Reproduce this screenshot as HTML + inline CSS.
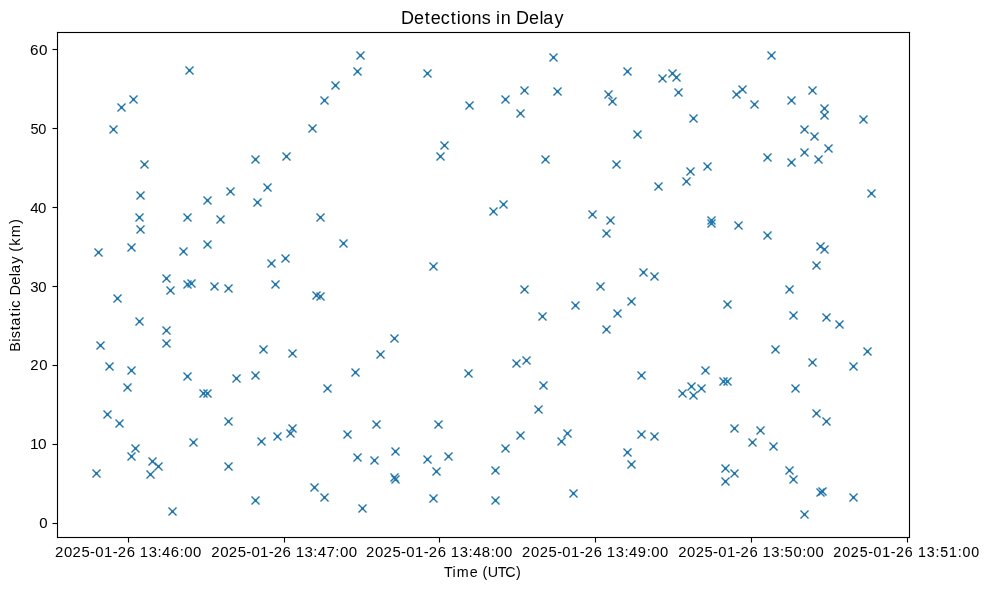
<!DOCTYPE html>
<html><head><meta charset="utf-8"><title>Detections in Delay</title>
<style>html,body{margin:0;padding:0;background:#fff;width:989px;height:590px;overflow:hidden;font-family:"Liberation Sans", sans-serif;}svg{display:block;}</style>
</head><body>
<svg width="989" height="590" viewBox="0 0 989 590" style="will-change:transform">
<rect width="989" height="590" fill="#fff"/>
<defs><g id="m" fill="#1f77b4"><path d="M1 1h1v1h-1zM7 1h1v1h-1zM2 2h1v1h-1zM6 2h1v1h-1zM3 3h1v1h-1zM5 3h1v1h-1zM4 4h1v1h-1zM3 5h1v1h-1zM5 5h1v1h-1zM2 6h1v1h-1zM6 6h1v1h-1zM1 7h1v1h-1zM7 7h1v1h-1z"/><path d="M4 3h1v1h-1zM3 4h1v1h-1zM5 4h1v1h-1zM4 5h1v1h-1z" fill-opacity="0.975"/><path d="M1 0h1v1h-1zM7 0h1v1h-1zM0 1h1v1h-1zM2 1h1v1h-1zM6 1h1v1h-1zM8 1h1v1h-1zM1 2h1v1h-1zM3 2h1v1h-1zM5 2h1v1h-1zM7 2h1v1h-1zM2 3h1v1h-1zM6 3h1v1h-1zM2 5h1v1h-1zM6 5h1v1h-1zM1 6h1v1h-1zM3 6h1v1h-1zM5 6h1v1h-1zM7 6h1v1h-1zM0 7h1v1h-1zM2 7h1v1h-1zM6 7h1v1h-1zM8 7h1v1h-1zM1 8h1v1h-1zM7 8h1v1h-1z" fill-opacity="0.492"/><path d="M0 0h1v1h-1zM8 0h1v1h-1zM0 8h1v1h-1zM8 8h1v1h-1z" fill-opacity="0.506"/></g></defs>
<g>
<use href="#m" x="185" y="66"/>
<use href="#m" x="129" y="95"/>
<use href="#m" x="117" y="103"/>
<use href="#m" x="109" y="125"/>
<use href="#m" x="356" y="51"/>
<use href="#m" x="353" y="67"/>
<use href="#m" x="331" y="81"/>
<use href="#m" x="320" y="96"/>
<use href="#m" x="308" y="124"/>
<use href="#m" x="423" y="69"/>
<use href="#m" x="465" y="101"/>
<use href="#m" x="501" y="95"/>
<use href="#m" x="520" y="86"/>
<use href="#m" x="516" y="109"/>
<use href="#m" x="549" y="53"/>
<use href="#m" x="553" y="87"/>
<use href="#m" x="623" y="67"/>
<use href="#m" x="604" y="90"/>
<use href="#m" x="608" y="97"/>
<use href="#m" x="658" y="74"/>
<use href="#m" x="668" y="69"/>
<use href="#m" x="672" y="73"/>
<use href="#m" x="674" y="88"/>
<use href="#m" x="689" y="114"/>
<use href="#m" x="633" y="130"/>
<use href="#m" x="767" y="51"/>
<use href="#m" x="738" y="85"/>
<use href="#m" x="732" y="90"/>
<use href="#m" x="750" y="100"/>
<use href="#m" x="787" y="96"/>
<use href="#m" x="808" y="86"/>
<use href="#m" x="820" y="104"/>
<use href="#m" x="820" y="111"/>
<use href="#m" x="859" y="115"/>
<use href="#m" x="800" y="125"/>
<use href="#m" x="810" y="132"/>
<use href="#m" x="140" y="160"/>
<use href="#m" x="136" y="191"/>
<use href="#m" x="135" y="213"/>
<use href="#m" x="136" y="225"/>
<use href="#m" x="183" y="213"/>
<use href="#m" x="203" y="196"/>
<use href="#m" x="226" y="187"/>
<use href="#m" x="216" y="215"/>
<use href="#m" x="251" y="155"/>
<use href="#m" x="282" y="152"/>
<use href="#m" x="263" y="183"/>
<use href="#m" x="253" y="198"/>
<use href="#m" x="316" y="213"/>
<use href="#m" x="440" y="141"/>
<use href="#m" x="436" y="152"/>
<use href="#m" x="541" y="155"/>
<use href="#m" x="499" y="200"/>
<use href="#m" x="489" y="207"/>
<use href="#m" x="612" y="160"/>
<use href="#m" x="654" y="182"/>
<use href="#m" x="686" y="167"/>
<use href="#m" x="682" y="177"/>
<use href="#m" x="703" y="162"/>
<use href="#m" x="588" y="210"/>
<use href="#m" x="606" y="216"/>
<use href="#m" x="763" y="153"/>
<use href="#m" x="787" y="158"/>
<use href="#m" x="800" y="148"/>
<use href="#m" x="824" y="144"/>
<use href="#m" x="814" y="155"/>
<use href="#m" x="707" y="216"/>
<use href="#m" x="707" y="219"/>
<use href="#m" x="734" y="221"/>
<use href="#m" x="867" y="189"/>
<use href="#m" x="127" y="243"/>
<use href="#m" x="94" y="248"/>
<use href="#m" x="179" y="247"/>
<use href="#m" x="203" y="240"/>
<use href="#m" x="162" y="274"/>
<use href="#m" x="166" y="286"/>
<use href="#m" x="183" y="280"/>
<use href="#m" x="187" y="279"/>
<use href="#m" x="210" y="282"/>
<use href="#m" x="224" y="284"/>
<use href="#m" x="113" y="294"/>
<use href="#m" x="339" y="239"/>
<use href="#m" x="281" y="254"/>
<use href="#m" x="267" y="259"/>
<use href="#m" x="271" y="280"/>
<use href="#m" x="312" y="291"/>
<use href="#m" x="316" y="292"/>
<use href="#m" x="429" y="262"/>
<use href="#m" x="520" y="285"/>
<use href="#m" x="538" y="312"/>
<use href="#m" x="602" y="229"/>
<use href="#m" x="639" y="268"/>
<use href="#m" x="650" y="272"/>
<use href="#m" x="596" y="282"/>
<use href="#m" x="571" y="301"/>
<use href="#m" x="627" y="297"/>
<use href="#m" x="613" y="309"/>
<use href="#m" x="763" y="231"/>
<use href="#m" x="816" y="242"/>
<use href="#m" x="820" y="245"/>
<use href="#m" x="812" y="261"/>
<use href="#m" x="785" y="285"/>
<use href="#m" x="723" y="300"/>
<use href="#m" x="789" y="311"/>
<use href="#m" x="822" y="313"/>
<use href="#m" x="135" y="317"/>
<use href="#m" x="96" y="341"/>
<use href="#m" x="162" y="326"/>
<use href="#m" x="162" y="339"/>
<use href="#m" x="105" y="362"/>
<use href="#m" x="127" y="366"/>
<use href="#m" x="123" y="383"/>
<use href="#m" x="183" y="372"/>
<use href="#m" x="199" y="389"/>
<use href="#m" x="203" y="389"/>
<use href="#m" x="232" y="374"/>
<use href="#m" x="251" y="371"/>
<use href="#m" x="259" y="345"/>
<use href="#m" x="288" y="349"/>
<use href="#m" x="323" y="384"/>
<use href="#m" x="351" y="368"/>
<use href="#m" x="376" y="350"/>
<use href="#m" x="390" y="334"/>
<use href="#m" x="464" y="369"/>
<use href="#m" x="512" y="359"/>
<use href="#m" x="522" y="356"/>
<use href="#m" x="539" y="381"/>
<use href="#m" x="602" y="325"/>
<use href="#m" x="637" y="371"/>
<use href="#m" x="678" y="389"/>
<use href="#m" x="687" y="382"/>
<use href="#m" x="689" y="391"/>
<use href="#m" x="697" y="384"/>
<use href="#m" x="701" y="366"/>
<use href="#m" x="835" y="320"/>
<use href="#m" x="771" y="345"/>
<use href="#m" x="808" y="358"/>
<use href="#m" x="849" y="362"/>
<use href="#m" x="719" y="377"/>
<use href="#m" x="723" y="377"/>
<use href="#m" x="791" y="384"/>
<use href="#m" x="863" y="347"/>
<use href="#m" x="103" y="410"/>
<use href="#m" x="115" y="419"/>
<use href="#m" x="131" y="444"/>
<use href="#m" x="127" y="452"/>
<use href="#m" x="148" y="457"/>
<use href="#m" x="154" y="462"/>
<use href="#m" x="146" y="470"/>
<use href="#m" x="92" y="469"/>
<use href="#m" x="189" y="438"/>
<use href="#m" x="224" y="417"/>
<use href="#m" x="224" y="462"/>
<use href="#m" x="257" y="437"/>
<use href="#m" x="273" y="432"/>
<use href="#m" x="286" y="429"/>
<use href="#m" x="288" y="424"/>
<use href="#m" x="343" y="430"/>
<use href="#m" x="372" y="420"/>
<use href="#m" x="353" y="453"/>
<use href="#m" x="370" y="456"/>
<use href="#m" x="310" y="483"/>
<use href="#m" x="320" y="493"/>
<use href="#m" x="534" y="405"/>
<use href="#m" x="434" y="420"/>
<use href="#m" x="516" y="431"/>
<use href="#m" x="501" y="444"/>
<use href="#m" x="391" y="447"/>
<use href="#m" x="423" y="455"/>
<use href="#m" x="444" y="452"/>
<use href="#m" x="432" y="467"/>
<use href="#m" x="491" y="466"/>
<use href="#m" x="390" y="473"/>
<use href="#m" x="391" y="475"/>
<use href="#m" x="563" y="429"/>
<use href="#m" x="557" y="437"/>
<use href="#m" x="569" y="489"/>
<use href="#m" x="637" y="430"/>
<use href="#m" x="650" y="432"/>
<use href="#m" x="623" y="448"/>
<use href="#m" x="627" y="460"/>
<use href="#m" x="812" y="409"/>
<use href="#m" x="822" y="417"/>
<use href="#m" x="730" y="424"/>
<use href="#m" x="756" y="426"/>
<use href="#m" x="748" y="438"/>
<use href="#m" x="769" y="442"/>
<use href="#m" x="721" y="464"/>
<use href="#m" x="730" y="469"/>
<use href="#m" x="721" y="477"/>
<use href="#m" x="785" y="466"/>
<use href="#m" x="789" y="475"/>
<use href="#m" x="816" y="488"/>
<use href="#m" x="818" y="487"/>
<use href="#m" x="849" y="493"/>
<use href="#m" x="168" y="507"/>
<use href="#m" x="251" y="496"/>
<use href="#m" x="358" y="504"/>
<use href="#m" x="429" y="494"/>
<use href="#m" x="491" y="496"/>
<use href="#m" x="800" y="510"/>
</g>
<path d="M56 32h3v506h-3zM908 32h3v506h-3zM59 31h849v3h-849zM59 536h849v3h-849z" fill="#000" fill-opacity="0.055"/>
<path d="M53 522h4v1h-4zM53 524h4v1h-4zM53 443h4v1h-4zM53 445h4v1h-4zM53 364h4v1h-4zM53 366h4v1h-4zM53 285h4v1h-4zM53 287h4v1h-4zM53 206h4v1h-4zM53 208h4v1h-4zM53 127h4v1h-4zM53 129h4v1h-4zM53 48h4v1h-4zM53 50h4v1h-4zM127 538h1v4h-1zM129 538h1v4h-1zM283 538h1v4h-1zM285 538h1v4h-1zM438 538h1v4h-1zM440 538h1v4h-1zM594 538h1v4h-1zM596 538h1v4h-1zM750 538h1v4h-1zM752 538h1v4h-1zM906 538h1v4h-1zM908 538h1v4h-1z" fill="#000" fill-opacity="0.055"/>
<path d="M57 32h1v506h-1zM909 32h1v506h-1zM58 32h851v1h-851zM58 537h851v1h-851zM53 523h4v1h-4zM53 444h4v1h-4zM53 365h4v1h-4zM53 286h4v1h-4zM53 207h4v1h-4zM53 128h4v1h-4zM53 49h4v1h-4zM128 538h1v4h-1zM284 538h1v4h-1zM439 538h1v4h-1zM595 538h1v4h-1zM751 538h1v4h-1zM907 538h1v4h-1z" fill="#000"/>
<path d="M52 523h1v1h-1zM52 444h1v1h-1zM52 365h1v1h-1zM52 286h1v1h-1zM52 207h1v1h-1zM52 128h1v1h-1zM52 49h1v1h-1zM128 542h1v1h-1zM284 542h1v1h-1zM439 542h1v1h-1zM595 542h1v1h-1zM751 542h1v1h-1zM907 542h1v1h-1z" fill="#000" fill-opacity="0.5"/>
<path d="M57 31h1v1h-1zM909 31h1v1h-1zM56 32h1v1h-1zM910 32h1v1h-1zM58 33h1v1h-1zM908 33h1v1h-1zM58 536h1v1h-1zM908 536h1v1h-1zM56 537h1v1h-1zM910 537h1v1h-1zM57 538h1v1h-1zM909 538h1v1h-1z" fill="rgb(227,227,227)"/>
<path d="M58 31h1v1h-1zM908 31h1v1h-1zM58 538h1v1h-1z" fill="rgb(240,240,240)"/>
<path d="M908 538h1v1h-1z" fill="rgb(226,226,226)"/>
<path d="M52 522h1v1h-1zM52 524h1v1h-1zM52 443h1v1h-1zM52 445h1v1h-1zM52 364h1v1h-1zM52 366h1v1h-1zM52 285h1v1h-1zM52 287h1v1h-1zM52 206h1v1h-1zM52 208h1v1h-1zM52 127h1v1h-1zM52 129h1v1h-1zM52 48h1v1h-1zM52 50h1v1h-1zM127 542h1v1h-1zM129 542h1v1h-1zM283 542h1v1h-1zM285 542h1v1h-1zM438 542h1v1h-1zM440 542h1v1h-1zM594 542h1v1h-1zM596 542h1v1h-1zM750 542h1v1h-1zM752 542h1v1h-1zM906 542h1v1h-1zM908 542h1v1h-1z" fill="rgb(248,248,248)"/>
<g font-family='"Liberation Sans", sans-serif' fill="#000">
<text transform="scale(1.0630 1)" x="36.81" y="528.00" font-size="14.10" stroke="#000" stroke-width="0.05">0</text>
<text transform="scale(1.1070 1)" x="27.02 34.29" y="449.00" font-size="13.95">10</text>
<text transform="scale(1.0850 1)" x="27.92 36.22" y="370.00" font-size="13.80">20</text>
<text transform="scale(1.0700 1)" x="28.17 35.66" y="292.50" font-size="13.95">30</text>
<text transform="scale(1.0770 1)" x="27.99 35.21" y="213.50" font-size="13.95">40</text>
<text transform="scale(1.0110 1)" x="30.22 37.95" y="134.00" font-size="14.40">50</text>
<text transform="scale(1.1040 1)" x="27.24 35.24" y="55.00" font-size="13.80" stroke="#000" stroke-width="0.05">60</text>
<text transform="scale(1.0570 1)" x="52.08 60.57 68.70 77.14 85.27 90.21 98.45 106.60 111.37 119.85 125.97 132.24 140.65 148.95 153.33 161.64 169.97 174.36 182.67" y="557.00" font-size="14.10">2025-01-26 13:46:00</text>
<text transform="scale(1.0350 1)" x="204.21 212.83 221.10 229.67 237.96 242.95 251.32 259.63 264.45 273.07 279.32 285.66 294.20 302.67 307.09 315.51 324.03 328.45 336.90" y="557.00" font-size="14.55">2025-01-26 13:47:00</text>
<text transform="scale(1.0800 1)" x="338.94 347.24 355.20 363.46 371.42 376.25 384.31 392.30 396.96 405.26 411.25 417.39 425.61 433.74 438.03 446.16 454.31 458.61 466.74" y="557.00" font-size="13.80">2025-01-26 13:48:00</text>
<text transform="scale(1.0720 1)" x="487.02 495.39 503.40 511.72 519.73 524.61 532.73 540.76 545.47 553.84 559.86 566.06 574.34 582.51 586.85 595.01 603.24 607.58 615.77" y="557.00" font-size="13.80">2025-01-26 13:49:00</text>
<text transform="scale(1.0750 1)" x="630.85 639.16 647.11 655.37 663.32 668.16 676.21 684.19 688.85 697.15 703.14 709.27 717.50 725.62 729.86 738.04 746.19 750.48 758.61" y="557.00" font-size="13.80">2025-01-26 13:50:00</text>
<text transform="scale(1.0300 1)" x="808.97 817.68 826.03 834.68 842.96 848.10 856.56 864.85 869.81 878.52 884.71 891.24 899.86 908.29 912.83 921.34 929.86 934.45 942.98" y="557.00" font-size="13.80" stroke="#000" stroke-width="0.05">2025-01-26 13:51:00</text>
<text transform="scale(1.0150 1)" x="437.32 445.78 450.06 462.86 469.00 475.26 480.55 490.51 497.86 508.47" y="577.00" font-size="14.10">Time (UTC)</text>
<text transform="scale(1.0200 1)" x="393.08 405.85 416.44 422.27 432.03 441.82 447.82 452.12 462.30 472.29 478.38 486.32 490.83 498.42 505.97 518.74 528.93 532.62 543.55" y="24.00" font-size="17.65">Detections in Delay</text>
<text transform="translate(20.30 285.30) rotate(-90) scale(1.0470 1)" x="-63.45 -53.93 -50.49 -43.02 -38.76 -29.71 -24.83 -21.45 -16.11 -9.86 0.48 8.70 11.77 20.64 26.11 32.17 37.89 45.80 58.63" y="0" font-size="13.90">Bistatic Delay (km)</text>
</g>
</svg>
</body></html>
